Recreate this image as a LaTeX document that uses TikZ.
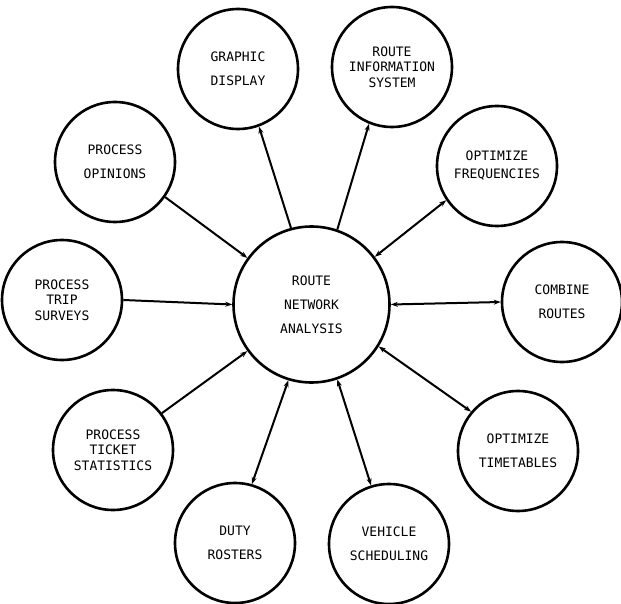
\documentclass[tikz,border=0pt]{standalone}
\usepackage{fontspec}
\setmonofont{DejaVu Sans Mono}
\usetikzlibrary{arrows.meta}
\begin{document}
\begin{tikzpicture}[x=1pt,y=1pt,
  bub/.style={circle,draw,line width=2.6pt,minimum size=120pt,inner sep=0pt,align=center,
    font=\ttfamily\fontsize{13}{24}\selectfont},
  bubtight/.style={bub,font=\ttfamily\fontsize{13}{15.5}\selectfont},
  tip/.tip={Stealth[length=7pt,width=5pt]},
  one/.style={line width=2pt,-tip},
  both/.style={line width=2pt,tip-tip}
]
\useasboundingbox (0,0) rectangle (621,-604);
\node[bub,minimum size=156pt] (c) at (311.5,-304.5) {ROUTE\\NETWORK\\ANALYSIS};
\node[bub] (gd) at (238,-69) {GRAPHIC\\DISPLAY};
\node[bubtight] (ri) at (392,-67) {ROUTE\\INFORMATION\\SYSTEM};
\node[bub,font=\ttfamily\fontsize{13}{18}\selectfont] (of) at (497,-166) {OPTIMIZE\\FREQUENCIES};
\node[bub] (cr) at (562,-302) {COMBINE\\ROUTES};
\node[bub] (ot) at (518,-451) {OPTIMIZE\\TIMETABLES};
\node[bub] (vs) at (389,-544) {VEHICLE\\SCHEDULING};
\node[bub] (dr) at (235,-543) {DUTY\\ROSTERS};
\node[bubtight] (pt) at (113,-450) {PROCESS\\TICKET\\STATISTICS};
\node[bubtight] (ts) at (62,-300) {PROCESS\\TRIP\\SURVEYS};
\node[bub] (po) at (115,-162) {PROCESS\\OPINIONS};

\draw[one] (po.-35) -- (c.144);
\draw[one] (ts.0) -- (c.180);
\draw[one] (pt.37) -- (c.-144);
\draw[one] (c.105) -- (gd.-70);
\draw[one] (c.71) -- (ri.-112);
\draw[both] (c.37) -- (of.-146);
\draw[both] (c.0) -- (cr.180);
\draw[both] (c.-32) -- (ot.140);
\draw[both] (c.-71) -- (vs.107);
\draw[both] (c.-107) -- (dr.74);
\end{tikzpicture}
\end{document}
